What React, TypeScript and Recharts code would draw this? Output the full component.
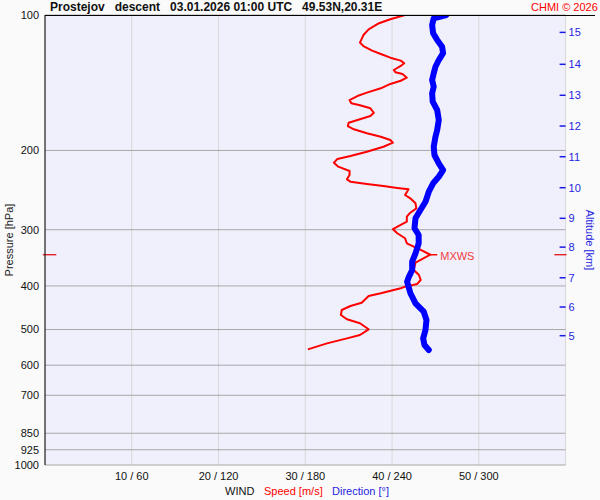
import { ScatterChart, Scatter, XAxis, YAxis, CartesianGrid, ReferenceLine, ReferenceDot } from "recharts";

const FONT = "Arial, 'Liberation Sans', sans-serif";

// pressure levels (hPa) on the left axis
const PRESSURE_TICKS = [100, 200, 300, 400, 500, 600, 700, 850, 925, 1000];
// wind speed grid (m/s) + the matching direction labels
const SPEED_TICKS = [10, 20, 30, 40, 50, 60];
const WIND_TICK_LABELS = ["10 / 60", "20 / 120", "30 / 180", "40 / 240", "50 / 300", ""];
// altitude axis: km label and the pressure where it sits
const ALT_KM = [15, 14, 13, 12, 11, 10, 9, 8, 7, 6, 5];
const ALT_P = [109.3, 128.7, 150.8, 176.5, 206.5, 242, 283, 328, 383.6, 445.6, 516];

// max wind level
const MAX_WIND = { speed: 44.4, p: 341 };

// [pressure hPa, speed m/s]
const SPEED_PROFILE: [number, number][] = [
  [100, 41.5], [102.2, 39.8], [104.3, 38.5], [107.6, 37.3], [110.8, 36.7], [115.2, 36.3],
  [117.2, 36.7], [120.0, 37.7], [122.1, 38.7], [124.4, 39.8], [126.3, 41.0], [128.0, 41.4],
  [129.8, 41.0], [132.5, 40.2], [134.1, 40.4], [135.3, 41.2], [137.8, 41.7], [140.0, 41.0],
  [142.3, 39.8], [145.5, 38.7], [148.8, 37.1], [151.4, 36.0], [154.5, 35.1], [157.1, 35.3],
  [158.7, 36.3], [161.2, 37.5], [164.9, 37.9], [167.7, 37.5], [170.5, 36.3], [173.5, 35.0],
  [176.5, 34.9], [179.5, 35.6], [183.2, 37.1], [186.4, 38.7], [189.6, 39.8], [192.2, 40.1],
  [196.2, 39.0], [201.3, 37.1], [205.8, 35.2], [208.9, 33.7], [212.9, 33.3], [217.3, 33.8],
  [222.2, 35.1], [226.8, 35.1], [231.8, 34.8], [234.6, 35.2], [237.4, 37.1], [239.9, 39.0],
  [242.3, 40.6], [244.0, 41.9], [251.2, 41.5], [255.5, 42.1], [262.1, 42.7], [268.9, 42.8],
  [275.0, 42.1], [280.7, 41.7], [288.0, 41.7], [292.8, 41.0], [299.3, 40.1], [305.5, 40.6],
  [313.4, 41.5], [321.6, 41.7], [327.3, 42.5], [331.7, 43.2], [341.0, 44.4], [355.1, 42.7],
  [368.6, 42.5], [378.2, 43.1], [388.0, 43.3], [396.0, 42.9], [401.5, 41.5], [404.8, 41.0],
  [415.3, 38.7], [421.1, 37.3], [435.8, 36.5], [443.3, 35.2], [452.4, 34.2], [464.2, 34.1],
  [474.5, 34.8], [484.3, 36.3], [499.4, 37.3], [514.2, 36.3], [523.1, 34.8], [536.7, 32.5],
  [553.4, 30.3],
];

// [pressure hPa, direction deg]
const DIR_PROFILE: [number, number][] = [
  [100, 277.5], [101.7, 268.8], [105.3, 267.7], [109.8, 268.4], [113.6, 271.2], [117.6, 274.6],
  [121.6, 275.3], [125.9, 272.3], [130.3, 270.0], [134.8, 268.8], [139.5, 267.7], [144.3, 268.8],
  [149.3, 267.7], [155.8, 268.1], [162.6, 271.2], [171.1, 272.3], [180.1, 271.2], [186.4, 270.0],
  [196.2, 268.8], [204.7, 269.3], [213.6, 272.3], [221.1, 275.3], [228.8, 272.3], [236.6, 268.4],
  [247.0, 265.4], [260.0, 263.1], [271.3, 259.6], [283.0, 256.2], [297.8, 255.5], [308.3, 258.4],
  [321.6, 258.4], [338.5, 256.2], [353.3, 253.9], [368.6, 253.9], [382.7, 251.5], [391.4, 250.4],
  [415.3, 252.7], [437.2, 256.2], [456.4, 261.9], [476.2, 263.8], [501.2, 263.1], [523.1, 261.5],
  [541.2, 262.4], [555.3, 265.4],
];

const speedRows = SPEED_PROFILE.map(([p, v]) => ({ p, v }));
const dirRows = DIR_PROFILE.map(([p, v]) => ({ p, v }));

const noDot = () => <g />;

function AltTick(props: any) {
  const { x, y, payload } = props;
  const i = ALT_P.indexOf(payload.value);
  return (
    <g>
      <line x1={x - 6} x2={x} y1={y} y2={y} stroke="#1a1ae6" strokeWidth={1.5} />
      <text x={x + 3} y={y} dy={4} fontSize={11} fill="#2424e0" fontFamily={FONT}>
        {ALT_KM[i]}
      </text>
    </g>
  );
}

function WindTick(props: any) {
  const { x, y, payload } = props;
  const i = SPEED_TICKS.indexOf(payload.value);
  return (
    <text x={x} y={y} dy={8} textAnchor="middle" fontSize={11} fill="#111" fontFamily={FONT}>
      {WIND_TICK_LABELS[i]}
    </text>
  );
}

function MaxWindMark(props: any) {
  const { cx, cy } = props;
  return (
    <g>
      <line x1={cx} x2={cx + 7} y1={cy} y2={cy} stroke="#ff0000" strokeWidth={1.5} />
      <text x={cx + 10} y={cy} dy={5} fontSize={11} fill="#f03c3c" fontFamily={FONT}>
        MXWS
      </text>
    </g>
  );
}

export default function App() {
  return (
    <div style={{ position: "absolute", left: 0, top: 0, width: 600, height: 500, background: "#fafafa", fontFamily: FONT }}>
      <ScatterChart width={600} height={500} margin={{ top: 15, right: 0, bottom: 0, left: 0 }}>
        <CartesianGrid xAxisId="spd" yAxisId="p" vertical={true} horizontal={false} stroke="#d8d8d8" fill="#f0f0fc" />
        <CartesianGrid xAxisId="spd" yAxisId="p" vertical={false} horizontal={true} stroke="#a8a8a8" />
        <XAxis
          xAxisId="spd"
          dataKey="v"
          type="number"
          domain={[0, 60]}
          ticks={SPEED_TICKS}
          interval={0}
          allowDataOverflow
          height={35}
          axisLine={false}
          tickLine={false}
          tickSize={0}
          tickMargin={7}
          tick={<WindTick />}
        />
        <XAxis xAxisId="dir" dataKey="v" type="number" domain={[0, 360]} allowDataOverflow hide height={0} />
        <YAxis
          yAxisId="p"
          dataKey="p"
          type="number"
          scale="log"
          domain={[100, 1000]}
          allowDataOverflow
          reversed
          ticks={PRESSURE_TICKS}
          interval={0}
          width={45}
          axisLine={{ stroke: "#000" }}
          tickLine={false}
          tickSize={0}
          tickMargin={6}
          tick={{ fontSize: 11, fill: "#111", fontFamily: FONT }}
          label={{ value: "Pressure [hPa]", angle: -90, position: "insideLeft", offset: 9, style: { fontSize: 11, fill: "#222", fontFamily: FONT, textAnchor: "middle" } }}
        />
        <YAxis
          yAxisId="alt"
          orientation="right"
          type="number"
          scale="log"
          domain={[100, 1000]}
          allowDataOverflow
          reversed
          ticks={ALT_P}
          interval={0}
          width={34.4}
          axisLine={false}
          tickLine={false}
          tickSize={0}
          tickMargin={0}
          tick={<AltTick />}
          label={{ value: "Altitude [km]", angle: 90, position: "insideRight", offset: 10, style: { fontSize: 11, fill: "#2424e0", fontFamily: FONT, textAnchor: "middle" } }}
        />
        <Scatter
          xAxisId="spd"
          yAxisId="p"
          data={speedRows}
          shape={noDot}
          line={{ stroke: "#ff0000", strokeWidth: 2, strokeLinejoin: "round", fill: "none" }}
          isAnimationActive={false}
        />
        <Scatter
          xAxisId="dir"
          yAxisId="p"
          data={dirRows}
          shape={noDot}
          line={{ stroke: "#0000ff", strokeWidth: 6, strokeLinejoin: "round", strokeLinecap: "round", fill: "none" }}
          isAnimationActive={false}
        />
        <ReferenceLine xAxisId="spd" yAxisId="p" ifOverflow="visible" stroke="#e00000" strokeWidth={1.2}
          segment={[{ x: -0.25, y: MAX_WIND.p }, { x: 1.3, y: MAX_WIND.p }]} />
        <ReferenceLine xAxisId="spd" yAxisId="p" ifOverflow="visible" stroke="#e00000" strokeWidth={1.2}
          segment={[{ x: 58.7, y: MAX_WIND.p }, { x: 60.1, y: MAX_WIND.p }]} />
        <ReferenceDot xAxisId="spd" yAxisId="p" x={MAX_WIND.speed} y={MAX_WIND.p} ifOverflow="visible" shape={<MaxWindMark />} />
      </ScatterChart>

      <div style={{ position: "absolute", left: 45, top: 15, width: 550, height: 1, background: "#000" }} />
      <div style={{ position: "absolute", left: 50, top: 0, fontSize: 12, fontWeight: "bold", whiteSpace: "pre", color: "#111", lineHeight: "14px" }}>
        {"Prostejov   descent   03.01.2026 01:00 UTC   49.53N,20.31E"}
      </div>
      <div style={{ position: "absolute", left: 531, top: 0, fontSize: 11, color: "#ff0000", lineHeight: "14px" }}>CHMI © 2026</div>
      <div style={{ position: "absolute", left: 225, top: 484, fontSize: 11, color: "#111", lineHeight: "14px" }}>WIND</div>
      <div style={{ position: "absolute", left: 264, top: 484, fontSize: 11, color: "#ff0000", lineHeight: "14px" }}>Speed [m/s]</div>
      <div style={{ position: "absolute", left: 332, top: 484, fontSize: 11, color: "#2424e0", lineHeight: "14px" }}>Direction [°]</div>
    </div>
  );
}
